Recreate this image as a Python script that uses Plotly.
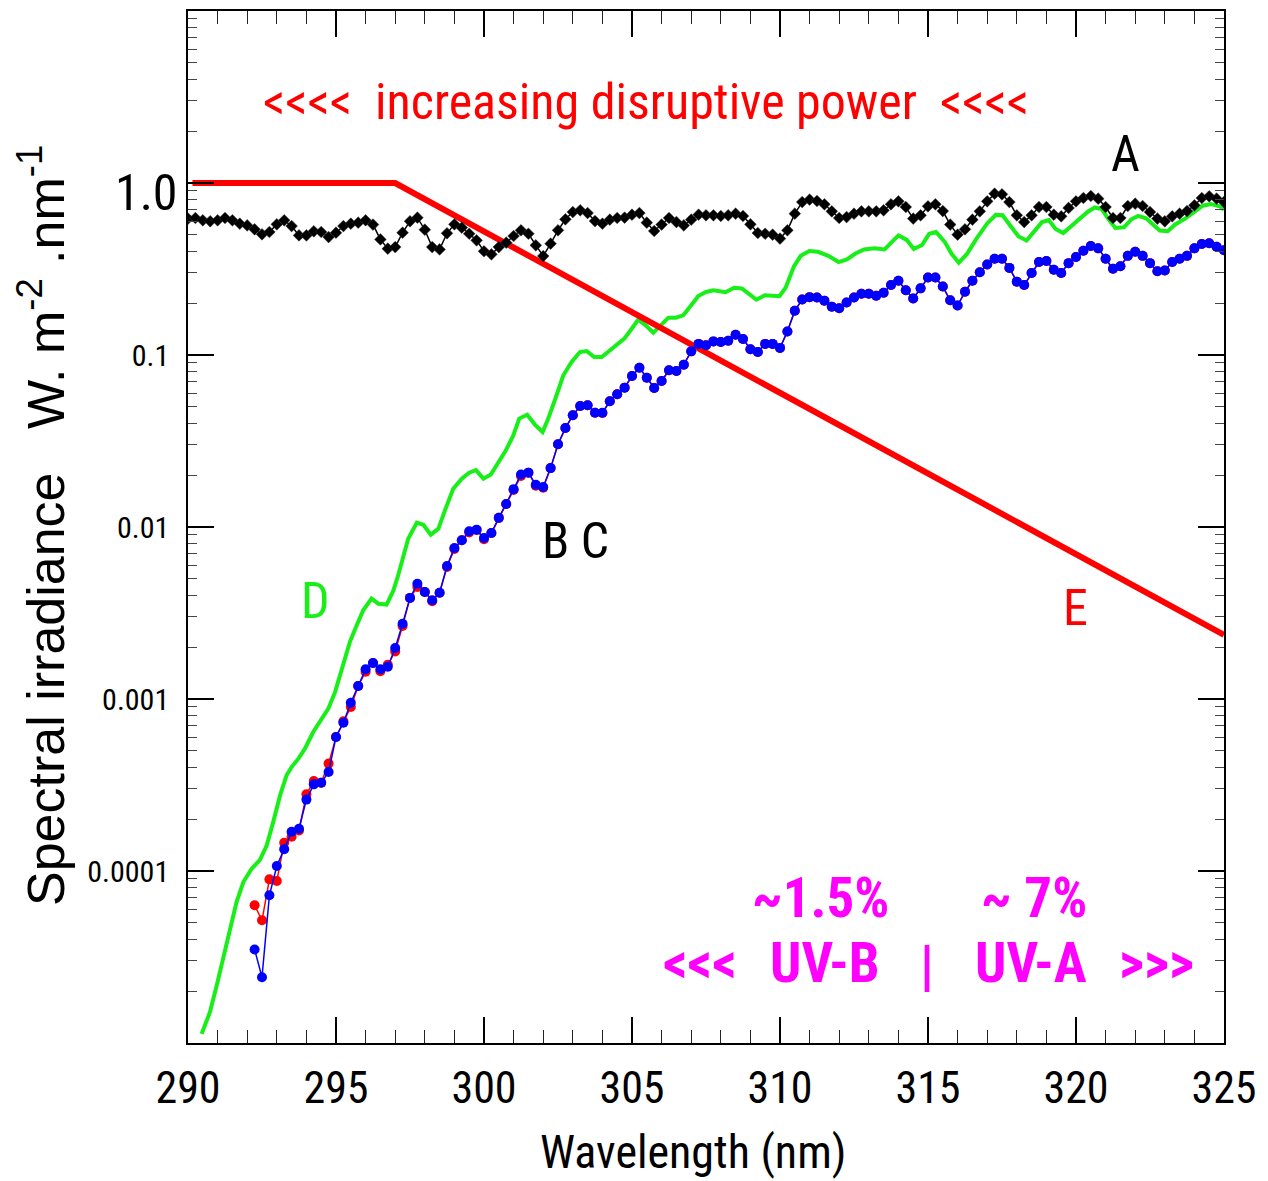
import plotly.graph_objects as go

# ---------------- data ----------------
# A : extraterrestrial-like spectrum, 0.25 nm grid 290..325
WL_A = [290 + 0.25 * i for i in range(141)]
A_VAL = [0.621, 0.626, 0.607, 0.599, 0.607, 0.626, 0.607, 0.580, 0.567, 0.538,
         0.503, 0.519, 0.575, 0.607, 0.562, 0.496, 0.496, 0.524, 0.519, 0.485,
         0.514, 0.562, 0.580, 0.588, 0.607, 0.573, 0.470, 0.415, 0.424, 0.514,
         0.599, 0.629, 0.535, 0.424, 0.411, 0.510, 0.575, 0.550, 0.507, 0.464,
         0.401, 0.385, 0.424, 0.450, 0.492, 0.531, 0.507, 0.434,
         0.376, 0.444, 0.531, 0.615, 0.678, 0.694, 0.669, 0.601, 0.580, 0.612,
         0.626, 0.629, 0.654, 0.669, 0.588, 0.526, 0.573, 0.626, 0.593, 0.567,
         0.612, 0.654, 0.649, 0.649, 0.643, 0.649, 0.663, 0.643, 0.575, 0.512,
         0.507, 0.501, 0.475, 0.531, 0.663, 0.775, 0.800, 0.786, 0.752, 0.684,
         0.626, 0.634, 0.663, 0.684, 0.684, 0.684,
         0.694, 0.752, 0.782, 0.725, 0.621, 0.649,
         0.732, 0.752, 0.687, 0.573, 0.501, 0.538, 0.612, 0.684, 0.782, 0.867,
         0.859, 0.775, 0.649, 0.593, 0.649, 0.725, 0.725, 0.654, 0.640, 0.716,
         0.782, 0.818, 0.840, 0.811, 0.725, 0.626, 0.626, 0.735, 0.758, 0.735,
         0.678, 0.621, 0.599, 0.640, 0.663, 0.687, 0.742, 0.818, 0.837, 0.811,
         0.775]

# B (red dots) and C (blue dots): 0.25 nm grid 292.25..325
WL_BC = [292.25 + 0.25 * i for i in range(132)]
B_VAL = [6.32e-5, 5.17e-5, 8.94e-5, 8.74e-5, 1.46e-4, 1.58e-4, 1.72e-4, 2.79e-4, 3.34e-4, 3.26e-4,
         4.21e-4, 6.01e-4, 7.42e-4, 8.98e-4, 1.19e-3, 1.44e-3, 1.62e-3, 1.45e-3, 1.58e-3, 1.89e-3,
         2.66e-3, 3.87e-3, 4.48e-3, 4.19e-3, 3.70e-3, 4.15e-3, 5.85e-3, 7.45e-3, 8.37e-3, 9.30e-3,
         9.60e-3, 8.50e-3, 9.23e-3, 1.13e-2, 1.36e-2, 1.64e-2, 1.98e-2, 2.07e-2, 1.74e-2, 1.69e-2,
         2.20e-2, 3.03e-2, 3.76e-2, 4.46e-2, 5.05e-2, 5.10e-2, 4.62e-2, 4.60e-2, 5.38e-2, 5.91e-2,
         6.46e-2, 7.55e-2, 8.44e-2, 7.38e-2, 6.43e-2, 7.06e-2, 8.15e-2, 8.07e-2, 8.79e-2, 0.105,
         0.116, 0.114, 0.120, 0.119, 0.121, 0.131, 0.124, 0.108, 0.104, 0.116,
         0.116, 0.110, 0.137, 0.181, 0.210, 0.217, 0.216, 0.207, 0.191, 0.187,
         0.202, 0.216, 0.227, 0.227, 0.221, 0.230, 0.255, 0.270, 0.238, 0.213,
         0.244, 0.282, 0.282, 0.250, 0.208, 0.194, 0.233, 0.270, 0.303, 0.336,
         0.363, 0.363, 0.321, 0.267, 0.255, 0.300, 0.347, 0.352, 0.313, 0.300,
         0.342, 0.371, 0.404, 0.430, 0.417, 0.363, 0.317, 0.328, 0.377, 0.398,
         0.377, 0.342, 0.307, 0.310, 0.347, 0.363, 0.377, 0.417, 0.442, 0.446,
         0.426, 0.407]
C_VAL = [3.50e-5, 2.41e-5, 7.22e-5, 1.07e-4, 1.34e-4, 1.69e-4, 1.76e-4, 2.60e-4, 3.19e-4, 3.26e-4,
         3.76e-4, 6.01e-4, 7.28e-4, 9.52e-4, 1.19e-3, 1.49e-3, 1.62e-3, 1.49e-3, 1.54e-3, 1.98e-3,
         2.74e-3, 3.87e-3, 4.68e-3, 4.19e-3, 3.75e-3, 4.15e-3, 5.93e-3, 7.55e-3, 8.37e-3, 9.44e-3,
         9.65e-3, 8.63e-3, 9.23e-3, 1.13e-2, 1.36e-2, 1.66e-2, 2.02e-2, 2.07e-2, 1.76e-2, 1.71e-2,
         2.20e-2, 3.03e-2, 3.76e-2, 4.46e-2, 5.05e-2, 5.10e-2, 4.62e-2, 4.62e-2, 5.38e-2, 5.91e-2,
         6.46e-2, 7.55e-2, 8.44e-2, 7.38e-2, 6.43e-2, 7.06e-2, 8.15e-2, 8.07e-2, 8.79e-2, 0.105,
         0.116, 0.114, 0.120, 0.119, 0.121, 0.131, 0.124, 0.108, 0.104, 0.116,
         0.116, 0.110, 0.137, 0.181, 0.210, 0.217, 0.216, 0.207, 0.191, 0.187,
         0.202, 0.216, 0.227, 0.227, 0.221, 0.230, 0.255, 0.270, 0.238, 0.213,
         0.244, 0.282, 0.282, 0.250, 0.208, 0.194, 0.233, 0.270, 0.303, 0.336,
         0.363, 0.363, 0.321, 0.267, 0.255, 0.300, 0.347, 0.352, 0.313, 0.300,
         0.342, 0.371, 0.404, 0.430, 0.417, 0.363, 0.317, 0.328, 0.377, 0.398,
         0.377, 0.342, 0.307, 0.310, 0.347, 0.363, 0.377, 0.417, 0.442, 0.446,
         0.426, 0.407]

# D (green line)
D_WL = [290.46, 290.74, 290.97, 291.19, 291.42, 291.64, 291.87, 292.15, 292.43, 292.66,
        292.88, 293.11, 293.33, 293.50, 293.73, 293.95, 294.23, 294.52, 294.74, 294.97,
        295.25, 295.47, 295.70, 295.92, 296.20, 296.43, 296.71, 296.94, 297.10, 297.44,
        297.73, 297.95, 298.20, 298.46, 298.68, 298.96, 299.25, 299.50, 299.73, 299.98,
        300.23, 300.48, 300.74, 300.99, 301.19, 301.46, 301.72, 301.98, 302.17, 302.43,
        302.68, 302.96, 303.24, 303.47, 303.72, 303.98, 304.26, 304.50, 304.74, 304.99,
        305.21, 305.46, 305.72, 305.97, 306.23, 306.48, 306.73, 306.98, 307.24, 307.50,
        307.75, 308.16, 308.45, 308.71, 309.20, 309.49, 309.98, 310.19, 310.47, 310.70,
        310.99, 311.28, 311.63, 311.98, 312.26, 312.55, 312.84, 313.19, 313.53, 314.00,
        314.28, 314.52, 314.80, 315.04, 315.27, 315.56, 315.79, 316.04, 316.31, 316.65,
        317.00, 317.29, 317.52, 317.75, 318.06, 318.33, 318.62, 318.85, 319.08, 319.31,
        319.57, 319.83, 320.12, 320.41, 320.64, 320.87, 321.10, 321.33, 321.62, 321.87,
        322.10, 322.37, 322.60, 322.83, 323.10, 323.35, 323.70, 323.99, 324.28, 324.56,
        324.86, 325.00]
D_VAL = [1.13e-5, 1.51e-5, 2.16e-5, 3.09e-5, 4.62e-5, 6.60e-5, 8.63e-5, 1.03e-4, 1.16e-4, 1.41e-4,
         1.93e-4, 2.75e-4, 3.60e-4, 4.02e-4, 4.50e-4, 5.14e-4, 6.43e-4, 7.69e-4, 8.79e-4, 1.10e-3,
         1.64e-3, 2.15e-3, 2.68e-3, 3.28e-3, 3.83e-3, 3.58e-3, 3.54e-3, 4.28e-3, 5.24e-3, 8.55e-3,
         1.06e-2, 1.03e-2, 9.03e-3, 9.78e-3, 1.25e-2, 1.67e-2, 1.91e-2, 2.07e-2, 2.14e-2, 1.91e-2,
         2.02e-2, 2.39e-2, 2.79e-2, 3.41e-2, 4.27e-2, 4.50e-2, 3.94e-2, 3.57e-2, 4.27e-2, 5.70e-2,
         7.62e-2, 9.11e-2, 0.1041, 0.1055, 0.0973, 0.0973, 0.1065, 0.1153, 0.1245, 0.1422,
         0.1605, 0.1488, 0.1348, 0.1488, 0.1648, 0.1648, 0.170, 0.1927, 0.2203, 0.2324,
         0.2377, 0.2319, 0.246, 0.2438, 0.2097, 0.2226, 0.2195, 0.246, 0.327, 0.377,
         0.402, 0.398, 0.377, 0.347, 0.360, 0.389, 0.411, 0.417, 0.411, 0.496,
         0.467, 0.413, 0.436, 0.507, 0.519, 0.4565, 0.389, 0.344, 0.3855, 0.478,
         0.582, 0.6525, 0.6495, 0.574, 0.489, 0.463, 0.536, 0.5925, 0.609, 0.541,
         0.512, 0.561, 0.620, 0.683, 0.721, 0.705, 0.615, 0.548, 0.553, 0.615,
         0.644, 0.623, 0.574, 0.529, 0.524, 0.574, 0.623, 0.674, 0.738, 0.755,
         0.731, 0.700]

# E (red thick line, action spectrum)
E_WL = [290.15, 297.0, 325.0]
E_VAL = [1.0, 1.0, 0.00236]

Y_TICKS = [1e-5, 1e-4, 1e-3, 1e-2, 1e-1, 1.0, 10.0]
Y_TICK_TEXT = ["", "0.0001", "0.001", "0.01", "0.1", "", ""]
Y_MINOR = [m * 10.0 ** e for e in range(-5, 1) for m in range(2, 10)]

# ---------------- styling ----------------
NARROW = ("Liberation Sans Narrow, Arial Narrow, Roboto Condensed, Noto Sans Condensed, "
          "Open Sans Condensed, DejaVu Sans Condensed, Liberation Sans, sans-serif")
REG = "Liberation Sans, Arial, sans-serif"
# the page body has an 8 px margin, so the figure is drawn 8 px smaller / shifted
OFF = 8
W, H = 1268 - OFF, 1181 - OFF
# plot area in reference-picture pixels
L, R, T, B = 188, 1224, 9, 1043


def px(x):
    return (x - L) / (R - L)


def py(y):
    return (B - y) / (B - T)


fig = go.Figure()
fig.add_trace(go.Scatter(x=D_WL, y=D_VAL, mode="lines",
                         line=dict(color="#18ee18", width=4)))
fig.add_trace(go.Scatter(x=E_WL, y=E_VAL, mode="lines",
                         line=dict(color="#ff0000", width=6)))
fig.add_trace(go.Scatter(x=WL_BC, y=B_VAL, mode="lines+markers",
                         line=dict(color="#ff0000", width=1.5),
                         marker=dict(color="#ff0000", size=10)))
fig.add_trace(go.Scatter(x=WL_BC, y=C_VAL, mode="lines+markers",
                         line=dict(color="#0000ff", width=1.5),
                         marker=dict(color="#0000ff", size=10)))
fig.add_trace(go.Scatter(x=WL_A, y=A_VAL, mode="lines+markers",
                         line=dict(color="#000000", width=1.5),
                         marker=dict(color="#000000", size=9, symbol="diamond",
                                     line=dict(color="#333333", width=0.5))))

ann = []


def text(x, y, s, size, color="#000000", family=NARROW, weight="normal", **kw):
    ann.append(dict(x=px(x), y=py(y), xref="paper", yref="paper", text=s,
                    showarrow=False, xanchor=kw.get("xanchor", "center"),
                    yanchor="middle", textangle=kw.get("angle", 0),
                    font=dict(family=family, size=size, color=color, weight=weight)))


MAG = "#ff00ff"
text(646, 100, "&lt;&lt;&lt;&lt;&nbsp;&nbsp;increasing disruptive power&nbsp;&nbsp;&lt;&lt;&lt;&lt;", 50, "#ff0000")
text(1125, 152, "A", 50)
text(575, 540, "B C", 50)
text(315, 600, "D", 50, "#18ee18")
text(1075, 607, "E", 50, "#ff0000")
text(820, 898, "~1.5%", 55, MAG, weight="bold")
text(1034, 898, "~ 7%", 55, MAG, weight="bold")
text(700, 963, "&lt;&lt;&lt;", 55, MAG, weight="bold")
text(825, 963, "UV-B", 55, MAG, weight="bold")
text(927, 966, "|", 55, MAG, weight="bold")
text(1031, 963, "UV-A", 55, MAG, weight="bold")
text(1156, 963, "&gt;&gt;&gt;", 55, MAG, weight="bold")
text(180, 191, "1.0", 50, xanchor="right")
text(42, 525, "Spectral irradiance&nbsp;&nbsp;&nbsp;W. m<sup>-2</sup> .nm<sup>-1</sup>", 52,
     family=REG, angle=-90)
text(693, 1152, "Wavelength (nm)", 46)

fig.update_layout(
    width=W, height=H, autosize=False,
    margin=dict(l=L - OFF, r=1268 - R, t=T - OFF, b=1181 - B, pad=0),
    paper_bgcolor="white", plot_bgcolor="white",
    showlegend=False, annotations=ann,
)
fig.update_xaxes(
    range=[290, 325], dtick=5, tick0=290, ticks="inside", ticklen=26, tickwidth=1.5,
    tickcolor="#000000", showline=True, linecolor="#000000", linewidth=1.5,
    mirror="ticks", showgrid=False, zeroline=False,
    tickfont=dict(family=NARROW, size=44, color="#000000"), ticklabelstandoff=5,
    minor=dict(dtick=1, ticks="inside", ticklen=13, tickwidth=1.2, tickcolor="#222222",
               showgrid=False),
)
fig.update_yaxes(
    type="log", range=[-5, 1], tickmode="array", tickvals=Y_TICKS, ticktext=Y_TICK_TEXT,
    ticks="inside", ticklen=26, tickwidth=1.5, tickcolor="#000000",
    showline=True, linecolor="#000000", linewidth=1.5, mirror="ticks",
    showgrid=False, zeroline=False,
    tickfont=dict(family=NARROW, size=30, color="#000000"), ticklabelstandoff=11,
    minor=dict(tickmode="array", tickvals=Y_MINOR, ticks="inside", ticklen=9,
               tickwidth=1.2, tickcolor="#444444", showgrid=False),
)

fig.write_html("out.html")
